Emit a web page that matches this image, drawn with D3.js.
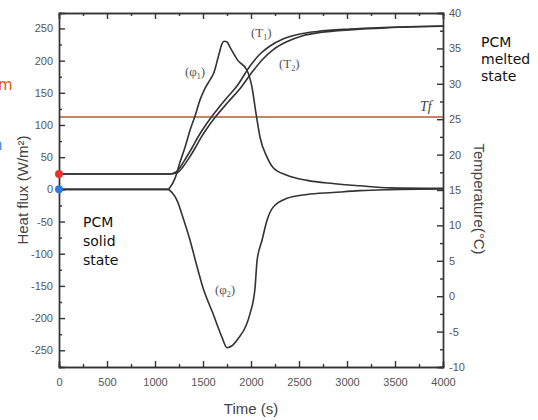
<!DOCTYPE html>
<html>
<head>
<script src="https://d3js.org/d3.v7.min.js"></script>
<style>
  body { margin:0; padding:0; background:#fff; }
  svg { display:block; font-family:"Liberation Sans", Arial, sans-serif; }
  .tick text { fill:#555; font-size:11px; }
  .domain, .tick line { stroke:#333; stroke-width:1.4; }
  .curve { fill:none; stroke:#333; stroke-width:1.6; }
  .lab { fill:#555; font-family:"Liberation Serif", serif; font-size:13px; }
  .note { fill:#111; font-family:"DejaVu Sans", Verdana, sans-serif; font-size:14px; }
</style>
</head>
<body>
<svg id="chart" width="538" height="420"></svg>
<script>
// time (s) of each reading
var phi1Time = [0, 1135, 1156, 1208, 1260, 1312, 1365, 1417, 1469, 1521, 1573, 1615, 1656, 1698, 1719, 1750, 1781, 1865, 1958, 2010, 2052, 2094, 2167, 2229, 2375, 2583, 2854, 3135, 3448, 4000];
var phi1Flux = [0, 0, 3, 17, 42, 65, 92, 114, 139, 157, 170, 182, 204, 226, 230, 229, 221, 200, 185, 159, 118, 81, 50, 34, 22, 14, 9, 5.5, 2.3, 1.5];

var phi2Time = [0, 1135, 1177, 1229, 1292, 1365, 1427, 1500, 1604, 1698, 1750, 1802, 1865, 1948, 1990, 2042, 2063, 2115, 2167, 2229, 2375, 2583, 2854, 3135, 3448, 4000];
var phi2Flux = [0, 0, -5, -17, -44, -79, -114, -153, -193, -230, -246, -243, -232, -212, -193, -153, -111, -79, -48, -28, -14, -8, -5, -2, -0.5, 0.5];

var t1Time = [0, 1156, 1219, 1271, 1323, 1385, 1448, 1521, 1604, 1729, 1854, 1990, 2094, 2198, 2333, 2510, 2688, 3031, 3375, 3729, 4000];
var t1Temp = [17.26, 17.26, 17.54, 18.39, 19.52, 20.93, 22.49, 24.04, 25.59, 27.71, 29.69, 32.51, 34.21, 35.34, 36.33, 37.03, 37.39, 37.74, 37.95, 38.09, 38.16];

var t2Time = [0, 1156, 1240, 1292, 1354, 1417, 1479, 1552, 1635, 1760, 1885, 2020, 2125, 2229, 2365, 2540, 2720, 3060, 3400, 3750, 4000];
var t2Temp = [17.26, 17.26, 17.5, 18.3, 19.5, 20.9, 22.4, 23.9, 25.4, 27.4, 29.3, 31.8, 33.5, 34.8, 35.9, 36.8, 37.25, 37.65, 37.9, 38.05, 38.12];

var meltTemp = 25.3;

var timeTicks = [0, 500, 1000, 1500, 2000, 2500, 3000, 3500, 4000];
var fluxTicks = [-250, -200, -150, -100, -50, 0, 50, 100, 150, 200, 250];
var tempTicks = [-10, -5, 0, 5, 10, 15, 20, 25, 30, 35, 40];

var svg = d3.select("#chart");
var pLeft = 59, pRight = 443, pTop = 13, pBottom = 367;

var x = d3.scaleLinear().domain([0, 4000]).range([pLeft, pRight]);
var yF = d3.scaleLinear().domain([-276, 274]).range([pBottom, pTop]);
var yT = d3.scaleLinear().domain([-10, 40]).range([pBottom, pTop]);

function mids(t) {
  var m = [];
  for (var i = 0; i < t.length - 1; i++) m.push((t[i] + t[i+1]) / 2);
  return m;
}

// tf line
svg.append("line")
  .attr("x1", pLeft).attr("x2", pRight)
  .attr("y1", yT(meltTemp)).attr("y2", yT(meltTemp))
  .attr("stroke", "#c98466").attr("stroke-width", 2);

// curves
var lineT = d3.line().x(function(d){ return x(d[0]); }).y(function(d){ return yT(d[1]); }).curve(d3.curveMonotoneX);
var lineF = d3.line().x(function(d){ return x(d[0]); }).y(function(d){ return yF(d[1]); }).curve(d3.curveMonotoneX);

svg.append("path").attr("class", "curve").attr("d", lineF(d3.zip(phi1Time, phi1Flux)));
svg.append("path").attr("class", "curve").attr("d", lineF(d3.zip(phi2Time, phi2Flux)));
svg.append("path").attr("class", "curve").attr("stroke-width", 1.3).attr("d", lineT(d3.zip(t1Time, t1Temp)));
svg.append("path").attr("class", "curve").attr("stroke-width", 1.3).attr("d", lineT(d3.zip(t2Time, t2Temp)));

// axes, ticks pointing inward; plain hyphen for negatives
var fmt = function(d){ return String(d); };
svg.append("g").attr("transform", "translate(0," + pBottom + ")")
  .call(d3.axisBottom(x).tickValues(timeTicks).tickSize(-6).tickPadding(11).tickFormat(fmt));
svg.append("g").attr("transform", "translate(0," + pBottom + ")")
  .call(d3.axisBottom(x).tickValues(mids(timeTicks)).tickSize(-3).tickFormat(""));
svg.append("g").attr("transform", "translate(0," + pTop + ")")
  .call(d3.axisTop(x).tickValues(timeTicks).tickSize(-6).tickFormat(""));
svg.append("g").attr("transform", "translate(0," + pTop + ")")
  .call(d3.axisTop(x).tickValues(mids(timeTicks)).tickSize(-3).tickFormat(""));

svg.append("g").attr("transform", "translate(" + pLeft + ",0)")
  .call(d3.axisLeft(yF).tickValues(fluxTicks).tickSize(-6).tickPadding(6).tickFormat(fmt));
svg.append("g").attr("transform", "translate(" + pLeft + ",0)")
  .call(d3.axisLeft(yF).tickValues(mids(fluxTicks)).tickSize(-3).tickFormat(""));

svg.append("g").attr("transform", "translate(" + pRight + ",0)")
  .call(d3.axisRight(yT).tickValues(tempTicks).tickSize(-6).tickPadding(6).tickFormat(fmt));
svg.append("g").attr("transform", "translate(" + pRight + ",0)")
  .call(d3.axisRight(yT).tickValues(mids(tempTicks)).tickSize(-3).tickFormat(""));

svg.selectAll(".domain").attr("stroke", "#333").attr("stroke-width", 1.6);

// markers on the left
svg.append("circle").attr("cx", x(0)).attr("cy", yT(t1Temp[0])).attr("r", 4).attr("fill", "#e8342c");
svg.append("circle").attr("cx", x(0)).attr("cy", yF(0)).attr("r", 4).attr("fill", "#2b7be4");

// axis titles
svg.append("text").attr("x", x(2000)).attr("y", 414).attr("text-anchor", "middle")
  .attr("fill", "#444").attr("font-size", 15).text("Time (s)");
svg.append("text").attr("transform", "translate(28,190) rotate(-90)").attr("text-anchor", "middle")
  .attr("fill", "#444").attr("font-size", 15).text("Heat flux (W/m²)");
svg.append("text").attr("transform", "translate(474,199) rotate(90)").attr("text-anchor", "middle")
  .attr("fill", "#444").attr("font-size", 15).text("Temperature(°C)");

// curve labels
function subLabel(px, py, main, sub) {
  var t = svg.append("text").attr("class", "lab").attr("x", px).attr("y", py);
  t.append("tspan").text("(" + main);
  t.append("tspan").attr("font-size", 8).attr("dy", 3).text(sub);
  t.append("tspan").attr("dy", -3).text(")");
}
subLabel(185, 76, "φ", "1");
subLabel(251, 37, "T", "1");
subLabel(279, 68, "T", "2");
subLabel(215, 294, "φ", "2");

svg.append("text").attr("x", 420).attr("y", 111).attr("fill", "#444")
  .attr("font-family", "Liberation Serif, serif").attr("font-style", "italic").attr("font-size", 14).text("Tf");

// state notes
var melted = ["PCM", "melted", "state"];
svg.selectAll(".mnote").data(melted).enter().append("text").attr("class", "note")
  .attr("x", 481).attr("y", function(d, i){ return 47 + i * 17; }).text(function(d){ return d; });
var solid = ["PCM", "solid", "state"];
svg.selectAll(".snote").data(solid).enter().append("text").attr("class", "note")
  .attr("x", 83).attr("y", function(d, i){ return 227 + i * 19; }).text(function(d){ return d; });

// bits of a cut-off legend on the left edge
svg.append("text").attr("x", -2).attr("y", 90).attr("fill", "#e0540f").attr("font-size", 15)
  .attr("font-family", "DejaVu Sans, sans-serif").text("m");
svg.append("text").attr("x", -7).attr("y", 150).attr("fill", "#3a86e6").attr("font-size", 15)
  .attr("font-family", "DejaVu Sans, sans-serif").text("n");
</script>
</body>
</html>
